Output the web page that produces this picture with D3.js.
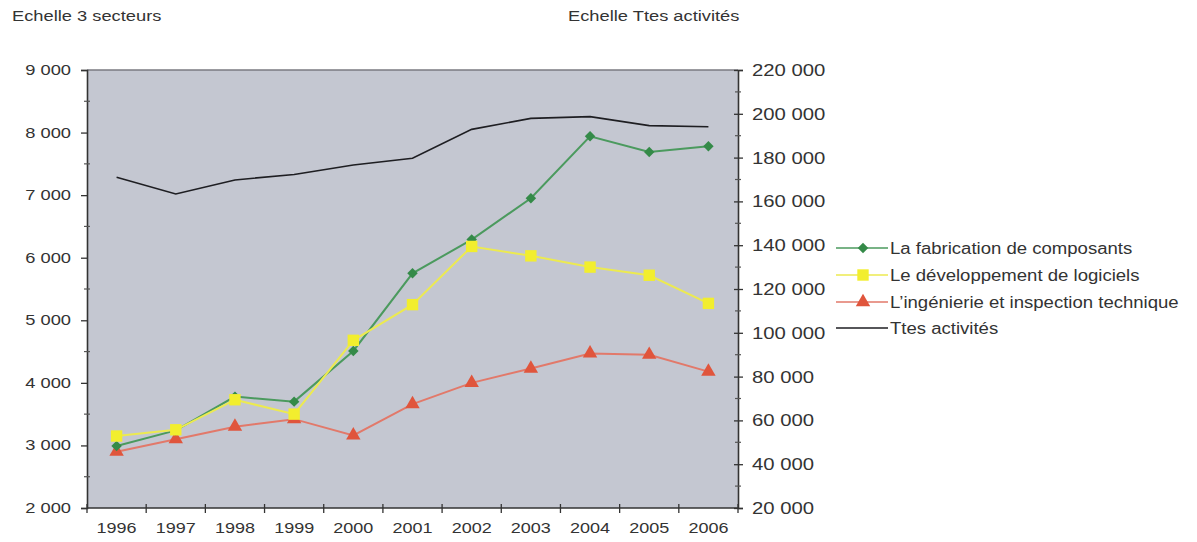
<!DOCTYPE html>
<html><head><meta charset="utf-8">
<script src="https://cdn.jsdelivr.net/npm/d3@7"></script>
<style>
body{margin:0;background:#fff}
text{font-family:"Liberation Sans",Arial,Helvetica,sans-serif;fill:#333}
</style></head>
<body><svg id="c" width="1197" height="542"></svg>
<script>
const years=["1996","1997","1998","1999","2000","2001","2002","2003","2004","2005","2006"];
const composants=[2990,3240,3780,3700,4510,5750,6290,6950,7940,7690,7780];
const logiciels=[3150,3250,3730,3500,4680,5250,6180,6030,5850,5720,5270];
const ingenierie=[2900,3100,3300,3420,3160,3660,4000,4230,4470,4450,4180];
const toutes=[171000,163400,169800,172300,176600,179700,192900,197900,198700,194600,194100];
const leftTicks=[2000,3000,4000,5000,6000,7000,8000,9000];
const rightTicks=[20000,40000,60000,80000,100000,120000,140000,160000,180000,200000,220000];
const seriesNames=["La fabrication de composants","Le développement de logiciels","L’ingénierie et inspection technique","Ttes activités"];
const titleLeft="Echelle 3 secteurs", titleRight="Echelle Ttes activités";

const svg=d3.select("#c");
const L=87,R=738,T=70,B=508;
const x=d3.scaleBand().domain(years).range([L,R]);
const yL=d3.scaleLinear().domain([2000,9000]).range([B,T]);
const yR=d3.scaleLinear().domain([20000,220000]).range([B,T]);
const fmt=d3.formatLocale({decimal:",",thousands:"\u00a0",grouping:[3],currency:["","€"]}).format(",d");

function stext(px,py,str,size,sx,anchor){
  const g=svg.append("g").attr("transform",`translate(${px},${py}) scale(${sx},1)`);
  g.append("text").attr("font-size",size).attr("text-anchor",anchor||"start").text(str);
}

// plot background
svg.append("rect").attr("x",L).attr("y",T).attr("width",R-L).attr("height",B-T).attr("fill","#c4c7d1");
svg.append("line").attr("x1",L).attr("x2",R).attr("y1",T).attr("y2",T).attr("stroke","#7a7a80").attr("stroke-width",1.5);

// titles
stext(12,21,titleLeft,15,1.22);
stext(568,21,titleRight,15,1.22);

// left axis
const axL=svg.append("g").attr("transform",`translate(${L},0)`)
 .call(d3.axisLeft(yL).tickValues(leftTicks).tickSize(6).tickFormat(""));
axL.select(".domain").attr("stroke","#333").attr("stroke-width",1.6);
axL.selectAll(".tick line").attr("stroke","#333").attr("stroke-width",1.3);
const minorL=d3.range(2500,9000,1000);
svg.append("g").selectAll("line").data(minorL).join("line")
 .attr("x1",L-3).attr("x2",L+3).attr("y1",d=>yL(d)).attr("y2",d=>yL(d)).attr("stroke","#555").attr("stroke-width",1.2);
leftTicks.forEach(v=>stext(71,yL(v)+5,fmt(v),15,1.22,"end"));

// right axis
const axR=svg.append("g").attr("transform",`translate(${R},0)`)
 .call(d3.axisRight(yR).tickValues(rightTicks).tickSize(5).tickFormat(""));
axR.select(".domain").attr("stroke","#333").attr("stroke-width",1.6);
axR.selectAll(".tick line").attr("x1",-4).attr("stroke","#333").attr("stroke-width",1.3);
const minorR=d3.range(30000,220000,20000);
svg.append("g").selectAll("line").data(minorR).join("line")
 .attr("x1",R-3).attr("x2",R+3).attr("y1",d=>yR(d)).attr("y2",d=>yR(d)).attr("stroke","#555").attr("stroke-width",1.2);
rightTicks.forEach(v=>stext(752,yR(v)+6,fmt(v),16,1.27,"start"));

// x axis
svg.append("line").attr("x1",L).attr("x2",R).attr("y1",B).attr("y2",B).attr("stroke","#333").attr("stroke-width",1.6);
const bounds=years.map(d=>x(d)).concat([R]);
svg.append("g").selectAll("line").data(bounds).join("line")
 .attr("x1",d=>d).attr("x2",d=>d).attr("y1",B-4).attr("y2",B+5).attr("stroke","#333").attr("stroke-width",1.3);
years.forEach(y=>stext(x(y)+x.bandwidth()/2,533,y,15,1.2,"middle"));

const cx=d=>x(d)+x.bandwidth()/2;
const lineL=d3.line().x((d,i)=>cx(years[i])).y(d=>yL(d));
const lineR=d3.line().x((d,i)=>cx(years[i])).y(d=>yR(d));

// black line
svg.append("path").attr("d",lineR(toutes)).attr("fill","none").attr("stroke","#1e1e22").attr("stroke-width",1.6);

const sym={
  diamond:d3.symbol().type(d3.symbolDiamond2).size(70),
  square:d3.symbol().type(d3.symbolSquare).size(130),
  triangle:d3.symbol().type(d3.symbolTriangle).size(90)
};
const series=[
  {vals:ingenierie,line:"#e2796a",fill:"#e0553c",s:"triangle"},
  {vals:composants,line:"#4b9a5e",fill:"#348a48",s:"diamond"},
  {vals:logiciels,line:"#ecea50",fill:"#f2ee2e",s:"square"}
];
series.forEach(se=>{
  svg.append("path").attr("d",lineL(se.vals)).attr("fill","none").attr("stroke",se.line).attr("stroke-width",2);
  svg.append("g").selectAll("path").data(se.vals).join("path")
   .attr("d",sym[se.s]).attr("transform",(d,i)=>`translate(${cx(years[i])},${yL(d)})`).attr("fill",se.fill);
});

// legend
const leg=[
  {name:seriesNames[0],line:"#4b9a5e",fill:"#348a48",s:"diamond",y:248},
  {name:seriesNames[1],line:"#ecea50",fill:"#f2ee2e",s:"square",y:275},
  {name:seriesNames[2],line:"#e2796a",fill:"#e0553c",s:"triangle",y:302},
  {name:seriesNames[3],line:"#1e1e22",fill:null,s:null,y:328}
];
leg.forEach(l=>{
  svg.append("line").attr("x1",836).attr("x2",888).attr("y1",l.y).attr("y2",l.y).attr("stroke",l.line).attr("stroke-width",1.6);
  if(l.s) svg.append("path").attr("d",sym[l.s]).attr("transform",`translate(863,${l.y})`).attr("fill",l.fill);
  stext(890,l.y+6,l.name,16,1.16,"start");
});
</script></body></html>
